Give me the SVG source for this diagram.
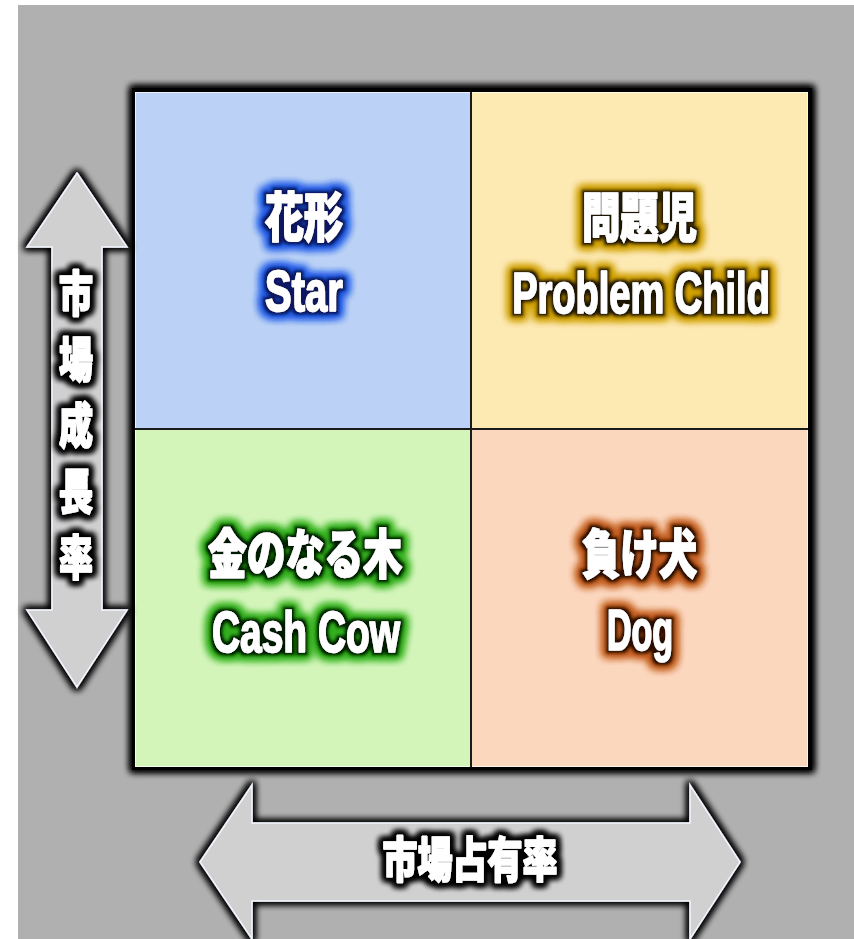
<svg xmlns="http://www.w3.org/2000/svg" width="854" height="939" viewBox="0 0 854 939">
<style>
.t{font-family:"Liberation Sans","Noto Sans CJK JP",sans-serif;font-weight:900;fill:#ffffff;stroke:#ffffff;stroke-width:1.6;stroke-linejoin:round;text-anchor:middle}
.q{font-size:53px}
.l{font-size:57px}
.ax{font-size:48px}
.arrow{fill:#d0d0d0;stroke:#f4f6ff;stroke-width:1.5;stroke-linejoin:miter}
</style>
<defs>
<filter id="shadow" x="-20%" y="-20%" width="140%" height="140%">
<feMorphology in="SourceAlpha" operator="dilate" radius="2" result="d"/>
<feGaussianBlur in="d" stdDeviation="3.5" result="b"/>
<feFlood flood-color="#000"/>
<feComposite in2="b" operator="in" result="s"/>
<feMerge><feMergeNode in="s"/><feMergeNode in="s"/><feMergeNode in="SourceGraphic"/></feMerge>
</filter>
<filter id="gBlue" x="-50%" y="-80%" width="200%" height="260%">
<feMorphology in="SourceAlpha" operator="dilate" radius="5" result="d1"/>
<feGaussianBlur in="d1" stdDeviation="4.5" result="b1"/>
<feFlood flood-color="#2a5ee8"/>
<feComposite in2="b1" operator="in" result="o"/>
<feMorphology in="SourceAlpha" operator="dilate" radius="2.5" result="d2"/>
<feGaussianBlur in="d2" stdDeviation="1.5" result="b2"/>
<feFlood flood-color="#081660"/>
<feComposite in2="b2" operator="in" result="i"/>
<feMerge><feMergeNode in="o"/><feMergeNode in="o"/><feMergeNode in="o"/><feMergeNode in="i"/><feMergeNode in="SourceGraphic"/></feMerge>
</filter>
<filter id="gYellow" x="-50%" y="-80%" width="200%" height="260%">
<feMorphology in="SourceAlpha" operator="dilate" radius="5" result="d1"/>
<feGaussianBlur in="d1" stdDeviation="4.5" result="b1"/>
<feFlood flood-color="#d0a000"/>
<feComposite in2="b1" operator="in" result="o"/>
<feMorphology in="SourceAlpha" operator="dilate" radius="2.5" result="d2"/>
<feGaussianBlur in="d2" stdDeviation="1.5" result="b2"/>
<feFlood flood-color="#1a1200"/>
<feComposite in2="b2" operator="in" result="i"/>
<feMerge><feMergeNode in="o"/><feMergeNode in="o"/><feMergeNode in="o"/><feMergeNode in="i"/><feMergeNode in="SourceGraphic"/></feMerge>
</filter>
<filter id="gGreen" x="-50%" y="-80%" width="200%" height="260%">
<feMorphology in="SourceAlpha" operator="dilate" radius="5" result="d1"/>
<feGaussianBlur in="d1" stdDeviation="4.5" result="b1"/>
<feFlood flood-color="#34b024"/>
<feComposite in2="b1" operator="in" result="o"/>
<feMorphology in="SourceAlpha" operator="dilate" radius="2.5" result="d2"/>
<feGaussianBlur in="d2" stdDeviation="1.5" result="b2"/>
<feFlood flood-color="#001a00"/>
<feComposite in2="b2" operator="in" result="i"/>
<feMerge><feMergeNode in="o"/><feMergeNode in="o"/><feMergeNode in="o"/><feMergeNode in="i"/><feMergeNode in="SourceGraphic"/></feMerge>
</filter>
<filter id="gOrange" x="-50%" y="-80%" width="200%" height="260%">
<feMorphology in="SourceAlpha" operator="dilate" radius="5" result="d1"/>
<feGaussianBlur in="d1" stdDeviation="4.5" result="b1"/>
<feFlood flood-color="#c45e26"/>
<feComposite in2="b1" operator="in" result="o"/>
<feMorphology in="SourceAlpha" operator="dilate" radius="2.5" result="d2"/>
<feGaussianBlur in="d2" stdDeviation="1.5" result="b2"/>
<feFlood flood-color="#2a0c00"/>
<feComposite in2="b2" operator="in" result="i"/>
<feMerge><feMergeNode in="o"/><feMergeNode in="o"/><feMergeNode in="o"/><feMergeNode in="i"/><feMergeNode in="SourceGraphic"/></feMerge>
</filter>
<filter id="gBlack" x="-50%" y="-80%" width="200%" height="260%">
<feMorphology in="SourceAlpha" operator="dilate" radius="3" result="d1"/>
<feGaussianBlur in="d1" stdDeviation="3" result="b1"/>
<feFlood flood-color="#000"/>
<feComposite in2="b1" operator="in" result="o"/>
<feMerge><feMergeNode in="o"/><feMergeNode in="o"/><feMergeNode in="o"/><feMergeNode in="SourceGraphic"/></feMerge>
</filter>
</defs>

<rect x="0" y="0" width="854" height="939" fill="#ffffff"/>
<rect x="18" y="5" width="836" height="934" fill="#b0b0b0"/>

<g id="matrix">
<rect x="132" y="88" width="680" height="682" fill="#000" filter="url(#shadow)"/>
<rect x="135" y="92" width="335" height="336" fill="#bbd2f6"/>
<rect x="472" y="92" width="336" height="336" fill="#fdeab3"/>
<rect x="135" y="430" width="335" height="337" fill="#d3f5b9"/>
<rect x="472" y="430" width="336" height="337" fill="#fbd7bd"/>
<rect x="135.5" y="92.5" width="672" height="674" fill="none" stroke="#ffffff" stroke-opacity="0.7" stroke-width="1"/>
<line x1="471" y1="92" x2="471" y2="767" stroke="#1a1a1a" stroke-width="2"/>
<line x1="135" y1="429" x2="808" y2="429" stroke="#1a1a1a" stroke-width="2"/>
</g>

<g id="star">
<text class="t q" x="304" y="237" textLength="78" lengthAdjust="spacingAndGlyphs" filter="url(#gBlue)">花形</text>
<g filter="url(#gBlue)"><text class="t l" transform="translate(304,311) scale(0.72,1)" x="0" y="0" textLength="108" lengthAdjust="spacingAndGlyphs">Star</text></g>
</g>
<g id="problem-child">
<text class="t q" x="639.5" y="237" textLength="115" lengthAdjust="spacingAndGlyphs" filter="url(#gYellow)">問題児</text>
<g filter="url(#gYellow)"><text class="t l" transform="translate(641,313) scale(0.72,1)" x="0" y="0" textLength="358" lengthAdjust="spacingAndGlyphs">Problem Child</text></g>
</g>
<g id="cash-cow">
<text class="t q" x="305" y="574" textLength="194" lengthAdjust="spacingAndGlyphs" filter="url(#gGreen)">金のなる木</text>
<g filter="url(#gGreen)"><text class="t l" transform="translate(306,652) scale(0.72,1)" x="0" y="0" textLength="261" lengthAdjust="spacingAndGlyphs">Cash Cow</text></g>
</g>
<g id="dog">
<text class="t q" x="639.5" y="574" textLength="115" lengthAdjust="spacingAndGlyphs" filter="url(#gOrange)">負け犬</text>
<g filter="url(#gOrange)"><text class="t l" transform="translate(640,650) scale(0.72,1)" x="0" y="0" textLength="92" lengthAdjust="spacingAndGlyphs">Dog</text></g>
</g>

<g id="connectors">
<g id="axis-growth">
<path class="arrow" filter="url(#shadow)" d="M77,173 L127,247 L102,247 L102,610 L127,610 L77,687 L27,610 L52,610 L52,247 L27,247 Z"/>
<g filter="url(#gBlack)">
<text class="t ax" x="76" y="311" textLength="34" lengthAdjust="spacingAndGlyphs">市</text>
<text class="t ax" x="76" y="377" textLength="34" lengthAdjust="spacingAndGlyphs">場</text>
<text class="t ax" x="76" y="443" textLength="34" lengthAdjust="spacingAndGlyphs">成</text>
<text class="t ax" x="76" y="509" textLength="34" lengthAdjust="spacingAndGlyphs">長</text>
<text class="t ax" x="76" y="575" textLength="34" lengthAdjust="spacingAndGlyphs">率</text>
</g>
</g>
<g id="axis-share">
<path class="arrow" filter="url(#shadow)" d="M200,862 L252,785 L252,823 L690,823 L690,785 L740,862 L690,939 L690,901 L252,901 L252,939 Z"/>
<text class="t ax" x="470" y="877" textLength="175" lengthAdjust="spacingAndGlyphs" filter="url(#gBlack)">市場占有率</text>
</g>
</g>
</svg>
